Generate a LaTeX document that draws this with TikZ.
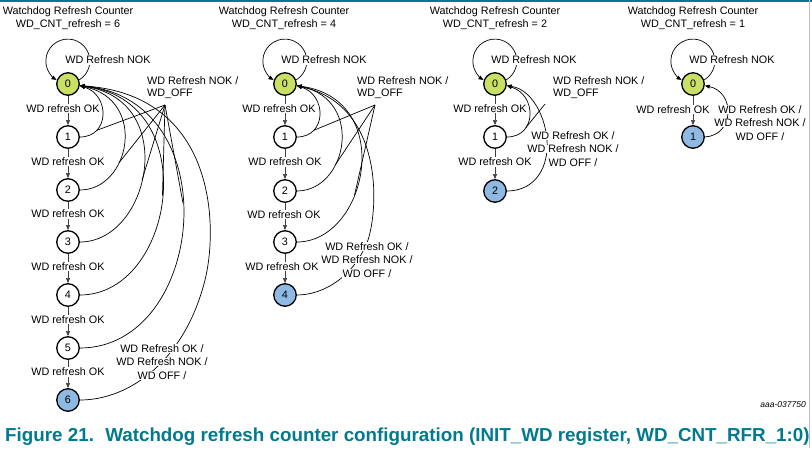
\documentclass[tikz,border=0pt]{standalone}
\usepackage{fontspec}
\setmainfont{Liberation Sans}
\usetikzlibrary{arrows.meta}
\definecolor{nxpteal}{RGB}{0,122,140}
\definecolor{startg}{RGB}{200,224,100}
\definecolor{endb}{RGB}{142,185,226}
\newcommand{\wl}[1]{{\setlength{\fboxsep}{0.4pt}\colorbox{white}{#1}}}
\begin{document}
\begin{tikzpicture}[x=1pt,y=-1pt,
  every node/.style={font=\fontsize{10.8}{13}\selectfont},
  st/.style={circle,draw,line width=1.3pt,minimum size=22.5pt,inner sep=0pt,fill=white},
  st0/.style={st,fill=startg},
  stN/.style={st,fill=endb},
  tip/.style={-{Triangle[length=5pt,width=4pt]}},
  back/.style={line width=0.7pt,tip},
  down/.style={line width=0.6pt,black!75,tip},
  oklbl/.style={fill=white,text=black,inner sep=0.6pt},
  nok/.style={fill=white,inner sep=0.6pt},
  ttl/.style={align=center,inner sep=0pt},
  multi/.style={align=center,inner sep=0pt,font=\fontsize{10.8}{13.5}\selectfont},
  hublbl/.style={align=left,anchor=west,inner sep=0pt,font=\fontsize{10.8}{12}\selectfont},
  hubline/.style={line width=0.7pt}]
\useasboundingbox (0,0) rectangle (812,448);
\draw[nxpteal,line width=1.5pt] (0,0.75) -- (812,0.75);
\draw[gray!50,line width=0.8pt] (809.5,0) -- (809.5,448);

% ---------------- Diagram 1 ----------------
\begin{scope}[shift={(68,0)}]
\node[ttl] (at) at (0,18.5) {Watchdog Refresh Counter\\WD\_CNT\_refresh = 6};
\node[st0] (a0) at (0,84) {0};
\node[st] (a1) at (0,137) {1};
\node[st] (a2) at (0,190) {2};
\node[st] (a3) at (0,242) {3};
\node[st] (a4) at (0,295) {4};
\node[st] (a5) at (0,348) {5};
\node[stN] (a6) at (0,400) {6};
\draw[back] (a0.20) arc[start angle=59,end angle=-239,radius=22];
\node[nok] (al) at (40,60) {WD Refresh NOK};
\draw[down] (a0) -- node[oklbl,xshift=-5pt,yshift=2pt]{WD refresh OK} (a1);
\draw[down] (a1) -- node[oklbl,yshift=2pt]{WD refresh OK} (a2);
\draw[down] (a2) -- node[oklbl,yshift=2pt]{WD refresh OK} (a3);
\draw[down] (a3) -- node[oklbl,yshift=2pt]{WD refresh OK} (a4);
\draw[down] (a4) -- node[oklbl,yshift=2pt]{WD refresh OK} (a5);
\draw[down] (a5) -- node[oklbl,yshift=2pt]{WD refresh OK} (a6);
\draw[back] (a1.east) .. controls (42,137) and (42,95) .. (a0.-8) coordinate[pos=.25] (a1p);
\draw[back] (a2.east) .. controls (62,190) and (80,100) .. (a0.-8) coordinate[pos=.36] (a2p);
\draw[back] (a3.east) .. controls (82,242) and (112,100) .. (a0.-8) coordinate[pos=.45] (a3p);
\draw[back] (a4.east) .. controls (107,295) and (137,100) .. (a0.-8) coordinate[pos=.5] (a4p);
\draw[back] (a5.east) .. controls (137,348) and (162,100) .. (a0.-8) coordinate[pos=.55] (a5p);
\draw[back] (a6.east) .. controls (62,400) and (117,360) .. (137,280) .. controls (150,228) and (149,95) .. (a0.-8);
\node[multi] (a6l) at (94,362) {\wl{WD Refresh OK /}\\\wl{WD Refresh NOK /}\\\wl{WD OFF /}};
\node[hublbl] (ah) at (79,88) {WD Refresh NOK /\\WD\_OFF};
\coordinate (ahub) at (97,105);
\foreach \p in {a1p,a2p,a3p,a4p,a5p} \draw[hubline] (ahub) -- (\p);
\end{scope}

% ---------------- Diagram 2 ----------------
\begin{scope}[shift={(285,0)}]
\node[ttl] (bt) at (-1,18.5) {Watchdog Refresh Counter\\WD\_CNT\_refresh = 4};
\node[st0] (b0) at (0,84) {0};
\node[st] (b1) at (0,137) {1};
\node[st] (b2) at (0,191) {2};
\node[st] (b3) at (0,242) {3};
\node[stN] (b4) at (0,295) {4};
\draw[back] (b0.20) arc[start angle=59,end angle=-239,radius=22];
\node[nok] (bl) at (39,60) {WD Refresh NOK};
\draw[down] (b0) -- node[oklbl,xshift=-6pt,yshift=2pt]{WD refresh OK} (b1);
\draw[down] (b1) -- node[oklbl,yshift=2pt]{WD refresh OK} (b2);
\draw[down] (b2) -- node[oklbl,xshift=-1pt,yshift=2pt]{WD refresh OK} (b3);
\draw[down] (b3) -- node[oklbl,xshift=-3pt,yshift=2pt]{WD refresh OK} (b4);
\draw[back] (b1.east) .. controls (42,137) and (42,95) .. (b0.-8) coordinate[pos=.25] (b1p);
\draw[back] (b2.east) .. controls (62,191) and (80,100) .. (b0.-8) coordinate[pos=.35] (b2p);
\draw[back] (b3.east) .. controls (82,242) and (112,100) .. (b0.-8) coordinate[pos=.38] (b3p);
\draw[back] (b4.east) .. controls (40,295) and (70,275) .. (83,240) .. controls (93,210) and (100,105) .. (b0.-8);
\node[multi] (b4l) at (82,260) {\wl{WD Refresh OK /}\\\wl{WD Refresh NOK /}\\\wl{WD OFF /}};
\node[hublbl] (bh) at (72,88) {WD Refresh NOK /\\WD\_OFF};
\coordinate (bhub) at (90,105);
\foreach \p in {b1p,b2p,b3p} \draw[hubline] (bhub) -- (\p);
\end{scope}

% ---------------- Diagram 3 ----------------
\begin{scope}[shift={(495,0)}]
\node[ttl] (ct) at (0,18.5) {Watchdog Refresh Counter\\WD\_CNT\_refresh = 2};
\node[st0] (c0) at (0,84) {0};
\node[st] (c1) at (0,137) {1};
\node[stN] (c2) at (0,191) {2};
\draw[back] (c0.20) arc[start angle=59,end angle=-239,radius=22];
\node[nok] (cl) at (39,60) {WD Refresh NOK};
\draw[down] (c0) -- node[oklbl,xshift=-5pt,yshift=2pt]{WD refresh OK} (c1);
\draw[down] (c1) -- node[oklbl,yshift=2pt]{WD refresh OK} (c2);
\draw[back] (c1.east) .. controls (42,137) and (42,95) .. (c0.-8) coordinate[pos=.3] (c1p);
\draw[back] (c2.east) .. controls (35,191) and (50,175) .. (52,150) .. controls (54,125) and (40,90) .. (c0.-8);
\node[multi] (c2l) at (78,149) {\wl{WD Refresh OK /}\\\wl{WD Refresh NOK /}\\\wl{WD OFF /}};
\node[hublbl] (ch) at (58,88) {WD Refresh NOK /\\WD\_OFF};
\coordinate (chub) at (50,104);
\draw[hubline] (chub) -- (c1p);
\end{scope}

% ---------------- Diagram 4 ----------------
\begin{scope}[shift={(693,0)}]
\node[ttl] (dt) at (0,18.5) {Watchdog Refresh Counter\\WD\_CNT\_refresh = 1};
\node[st0] (d0) at (0,84) {0};
\node[stN] (d1) at (0,137) {1};
\draw[back] (d0.20) arc[start angle=59,end angle=-239,radius=22];
\node[nok] (dl) at (39,60) {WD Refresh NOK};
\draw[down] (d0) -- node[oklbl,xshift=-20pt,yshift=1pt]{WD refresh OK} (d1);
\draw[back] (d1.east) .. controls (42,135) and (42,92) .. (d0.-8);
\node[multi] (d1l) at (67,123) {\wl{WD Refresh OK /}\\\wl{WD Refresh NOK /}\\\wl{WD OFF /}};
\end{scope}

\node[anchor=east,font=\fontsize{8.5}{10}\selectfont\itshape,inner sep=0pt] (id) at (806,405) {aaa-037750};
\node[anchor=base west,text=nxpteal,font=\fontsize{18.8}{20}\selectfont\bfseries,inner sep=0pt] (cap) at (5,441)
  {Figure 21.\hspace{0.6em}Watchdog refresh counter configuration (INIT\_WD register, WD\_CNT\_RFR\_1:0)};
\end{tikzpicture}
\end{document}
